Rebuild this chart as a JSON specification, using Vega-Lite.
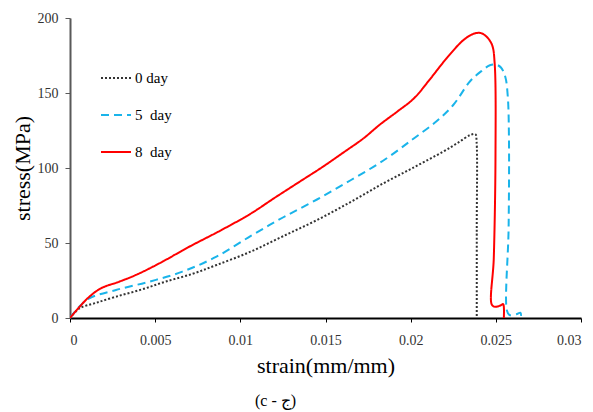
{
  "$schema": "https://vega.github.io/schema/vega-lite/v6.json",
  "width": 511,
  "height": 300,
  "autosize": {"type": "none"},
  "padding": {"left": 70, "top": 18, "right": 12, "bottom": 94},
  "background": "white",
  "title": {"text": "(c - ج)", "orient": "bottom", "anchor": "middle", "dx": -50, "offset": 17, "font": "Liberation Serif", "fontSize": 16, "fontWeight": "normal", "color": "#000000"},
  "config": {"view": {"stroke": null}},
  "data": {"values": [
    {"series": "0 day", "i": 0, "strain": 0, "stress": 0},
    {"series": "0 day", "i": 1, "strain": 0.00055, "stress": 6.4},
    {"series": "0 day", "i": 2, "strain": 0.0015, "stress": 10},
    {"series": "0 day", "i": 3, "strain": 0.0027, "stress": 14.2},
    {"series": "0 day", "i": 4, "strain": 0.0042, "stress": 19},
    {"series": "0 day", "i": 5, "strain": 0.0056, "stress": 24.2},
    {"series": "0 day", "i": 6, "strain": 0.0072, "stress": 29.5},
    {"series": "0 day", "i": 7, "strain": 0.0086, "stress": 35.3},
    {"series": "0 day", "i": 8, "strain": 0.0106, "stress": 44.2},
    {"series": "0 day", "i": 9, "strain": 0.0125, "stress": 54.5},
    {"series": "0 day", "i": 10, "strain": 0.0145, "stress": 65.3},
    {"series": "0 day", "i": 11, "strain": 0.0165, "stress": 77.5},
    {"series": "0 day", "i": 12, "strain": 0.0184, "stress": 89.8},
    {"series": "0 day", "i": 13, "strain": 0.0202, "stress": 100.5},
    {"series": "0 day", "i": 14, "strain": 0.0219, "stress": 110.9},
    {"series": "0 day", "i": 15, "strain": 0.0228, "stress": 117},
    {"series": "0 day", "i": 16, "strain": 0.0235, "stress": 122},
    {"series": "0 day", "i": 17, "strain": 0.0238, "stress": 122.5},
    {"series": "0 day", "i": 18, "strain": 0.02387, "stress": 117.5},
    {"series": "0 day", "i": 19, "strain": 0.02388, "stress": 60},
    {"series": "0 day", "i": 20, "strain": 0.02388, "stress": 0},

    {"series": "5  day", "i": 0, "strain": 0, "stress": 0},
    {"series": "5  day", "i": 1, "strain": 0.0005, "stress": 7},
    {"series": "5  day", "i": 2, "strain": 0.00113, "stress": 13.1},
    {"series": "5  day", "i": 3, "strain": 0.0027, "stress": 18.7},
    {"series": "5  day", "i": 4, "strain": 0.00465, "stress": 24.2},
    {"series": "5  day", "i": 5, "strain": 0.0066, "stress": 30.9},
    {"series": "5  day", "i": 6, "strain": 0.0086, "stress": 40.9},
    {"series": "5  day", "i": 7, "strain": 0.0107, "stress": 55.3},
    {"series": "5  day", "i": 8, "strain": 0.0125, "stress": 67},
    {"series": "5  day", "i": 9, "strain": 0.0145, "stress": 79},
    {"series": "5  day", "i": 10, "strain": 0.0165, "stress": 92},
    {"series": "5  day", "i": 11, "strain": 0.0184, "stress": 105},
    {"series": "5  day", "i": 12, "strain": 0.0201, "stress": 119},
    {"series": "5  day", "i": 13, "strain": 0.0215, "stress": 131},
    {"series": "5  day", "i": 14, "strain": 0.0225, "stress": 142},
    {"series": "5  day", "i": 15, "strain": 0.0235, "stress": 158},
    {"series": "5  day", "i": 16, "strain": 0.0242, "stress": 165},
    {"series": "5  day", "i": 17, "strain": 0.02465, "stress": 168.5},
    {"series": "5  day", "i": 18, "strain": 0.025, "stress": 169},
    {"series": "5  day", "i": 19, "strain": 0.0253, "stress": 167},
    {"series": "5  day", "i": 20, "strain": 0.02555, "stress": 161},
    {"series": "5  day", "i": 21, "strain": 0.0257, "stress": 148},
    {"series": "5  day", "i": 22, "strain": 0.02577, "stress": 120},
    {"series": "5  day", "i": 23, "strain": 0.02575, "stress": 60},
    {"series": "5  day", "i": 24, "strain": 0.02565, "stress": 5},
    {"series": "5  day", "i": 25, "strain": 0.0258, "stress": 2},
    {"series": "5  day", "i": 26, "strain": 0.0262, "stress": 2.5},
    {"series": "5  day", "i": 27, "strain": 0.02645, "stress": 3.5},
    {"series": "5  day", "i": 28, "strain": 0.02647, "stress": 0},

    {"series": "8  day", "i": 0, "strain": 0, "stress": 0},
    {"series": "8  day", "i": 1, "strain": 0.00103, "stress": 13.1},
    {"series": "8  day", "i": 2, "strain": 0.00182, "stress": 19.8},
    {"series": "8  day", "i": 3, "strain": 0.00289, "stress": 24.2},
    {"series": "8  day", "i": 4, "strain": 0.00387, "stress": 28.7},
    {"series": "8  day", "i": 5, "strain": 0.00524, "stress": 36.4},
    {"series": "8  day", "i": 6, "strain": 0.007, "stress": 47.5},
    {"series": "8  day", "i": 7, "strain": 0.0089, "stress": 58.7},
    {"series": "8  day", "i": 8, "strain": 0.0106, "stress": 69.5},
    {"series": "8  day", "i": 9, "strain": 0.012, "stress": 80},
    {"series": "8  day", "i": 10, "strain": 0.0135, "stress": 91},
    {"series": "8  day", "i": 11, "strain": 0.0148, "stress": 100.5},
    {"series": "8  day", "i": 12, "strain": 0.0162, "stress": 111.5},
    {"series": "8  day", "i": 13, "strain": 0.0172, "stress": 119.5},
    {"series": "8  day", "i": 14, "strain": 0.0182, "stress": 129},
    {"series": "8  day", "i": 15, "strain": 0.0192, "stress": 137.5},
    {"series": "8  day", "i": 16, "strain": 0.0202, "stress": 146.5},
    {"series": "8  day", "i": 17, "strain": 0.0211, "stress": 158.7},
    {"series": "8  day", "i": 18, "strain": 0.0221, "stress": 173},
    {"series": "8  day", "i": 19, "strain": 0.0231, "stress": 185.3},
    {"series": "8  day", "i": 20, "strain": 0.0237, "stress": 189.5},
    {"series": "8  day", "i": 21, "strain": 0.0241, "stress": 190},
    {"series": "8  day", "i": 22, "strain": 0.02446, "stress": 187.5},
    {"series": "8  day", "i": 23, "strain": 0.02478, "stress": 182},
    {"series": "8  day", "i": 24, "strain": 0.02493, "stress": 170},
    {"series": "8  day", "i": 25, "strain": 0.02498, "stress": 108.7},
    {"series": "8  day", "i": 26, "strain": 0.02488, "stress": 40},
    {"series": "8  day", "i": 27, "strain": 0.02476, "stress": 9},
    {"series": "8  day", "i": 28, "strain": 0.02494, "stress": 7.5},
    {"series": "8  day", "i": 29, "strain": 0.0253, "stress": 8.5},
    {"series": "8  day", "i": 30, "strain": 0.02543, "stress": 9.3},
    {"series": "8  day", "i": 31, "strain": 0.02547, "stress": 0}
  ]},
  "mark": {"type": "line", "strokeWidth": 2, "interpolate": "catmull-rom", "clip": true},
  "encoding": {
    "x": {
      "field": "strain", "type": "quantitative",
      "scale": {"domain": [0, 0.03], "nice": false, "zero": true},
      "axis": {
        "title": "strain(mm/mm)", "values": [0, 0.005, 0.01, 0.015, 0.02, 0.025, 0.03], "format": "~g",
        "grid": false, "domainColor": "#000000", "domainWidth": 2, "tickColor": "#000000", "tickSize": 4, "tickWidth": 1,
        "labelFont": "Liberation Serif", "labelFontSize": 14, "labelColor": "#333333", "labelPadding": 11,
        "titleFont": "Liberation Serif", "titleFontSize": 22, "titleFontWeight": "normal", "titleColor": "#000000", "titlePadding": 8
      }
    },
    "y": {
      "field": "stress", "type": "quantitative",
      "scale": {"domain": [0, 200], "nice": false},
      "axis": {
        "title": "stress(MPa)", "values": [0, 50, 100, 150, 200],
        "grid": false, "domainColor": "#595959", "domainWidth": 2, "tickColor": "#595959", "tickSize": 5, "tickWidth": 1,
        "labelFont": "Liberation Serif", "labelFontSize": 14, "labelColor": "#333333", "labelPadding": 7,
        "titleFont": "Liberation Serif", "titleFontSize": 22, "titleFontWeight": "normal", "titleColor": "#000000", "titlePadding": 3
      }
    },
    "order": {"field": "i", "type": "quantitative"},
    "color": {
      "field": "series", "type": "nominal",
      "scale": {"domain": ["0 day", "5  day", "8  day"], "range": ["#333333", "#1AB4EA", "#FF0000"]},
      "legend": {
        "title": null, "orient": "none", "legendX": 30, "legendY": 44,
        "symbolType": "stroke", "symbolSize": 900, "symbolStrokeWidth": 2,
        "labelExpr": "replace(datum.label, '  ', '\u00a0\u00a0')",
        "labelFont": "Liberation Serif", "labelFontSize": 15, "labelColor": "#000000", "labelOffset": 3,
        "rowPadding": 13, "padding": 0
      }
    },
    "strokeDash": {
      "field": "series", "type": "nominal",
      "scale": {"domain": ["0 day", "5  day", "8  day"], "range": [[2, 2], [8, 5], [1, 0]]},
      "legend": null
    }
  }
}
